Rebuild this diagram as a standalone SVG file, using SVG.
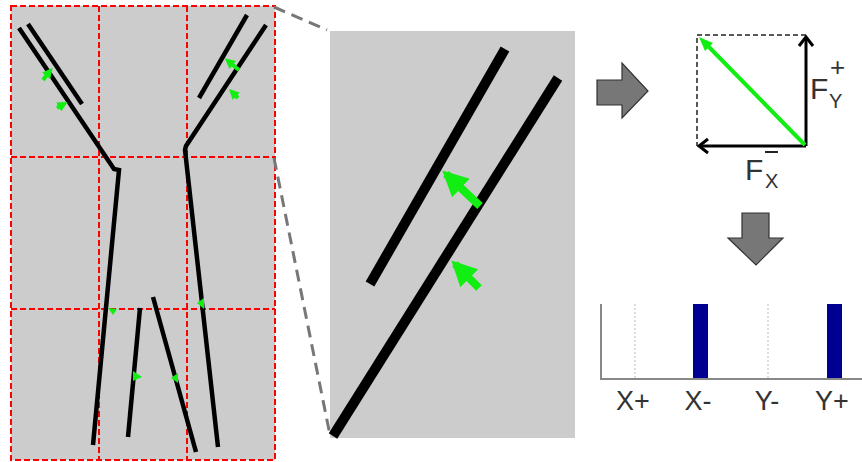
<svg xmlns="http://www.w3.org/2000/svg" width="862" height="462" viewBox="0 0 862 462">
<defs>
<style>
.grid{fill:none;stroke:#ff0000;stroke-width:2;stroke-dasharray:6 3}
.blk{fill:none;stroke:#000;stroke-width:4.5;stroke-linecap:butt;stroke-linejoin:miter}
.blkL{fill:none;stroke:#000;stroke-width:10}
.grn{fill:#11ee11}
.zoomln{fill:none;stroke:#777;stroke-width:3;stroke-dasharray:12 7}
.lbl{font-family:"Liberation Sans",Arial,sans-serif;fill:#333}
.bigarrow{fill:#777;stroke:#333;stroke-width:1.2}
</style>
<marker id="ga" viewBox="0 0 10 10" refX="6" refY="5" markerWidth="2.6" markerHeight="2.6" orient="auto" markerUnits="strokeWidth">
<path d="M0,0 L10,5 L0,10 z" fill="#11ee11"/>
</marker>
<marker id="gb" viewBox="0 0 10 10" refX="8" refY="5" markerWidth="3.2" markerHeight="3.2" orient="auto" markerUnits="strokeWidth">
<path d="M0,0 L10,5 L0,10 z" fill="#11ee11"/>
</marker>
</defs>

<g id="left-panel">
<rect x="11" y="6" width="264" height="454" fill="#cccccc"/>
<rect class="grid" x="11" y="6" width="264" height="454"/>
<line class="grid" x1="99" y1="6" x2="99" y2="460"/>
<line class="grid" x1="187" y1="6" x2="187" y2="460"/>
<line class="grid" x1="11" y1="157" x2="275" y2="157"/>
<line class="grid" x1="11" y1="309" x2="275" y2="309"/>
<polyline class="blk" points="19,28 114,169 119,170 93,445"/>
<line class="blk" x1="28" y1="24" x2="82" y2="104"/>
<line class="blk" x1="247" y1="15" x2="199" y2="98"/>
<polyline class="blk" points="266,25 186,146 185,150 218,447"/>
<line class="blk" x1="140" y1="308" x2="128" y2="437"/>
<line class="blk" x1="153" y1="297" x2="196" y2="452"/>
<line x1="43" y1="80" x2="50" y2="71" stroke="#11ee11" stroke-width="4" marker-end="url(#ga)"/>
<line x1="57" y1="108" x2="64" y2="104" stroke="#11ee11" stroke-width="4" marker-end="url(#ga)"/>
<line x1="239" y1="70" x2="228" y2="61" stroke="#11ee11" stroke-width="4" marker-end="url(#ga)"/>
<line x1="238" y1="98" x2="232" y2="92" stroke="#11ee11" stroke-width="4" marker-end="url(#ga)"/>
<polygon class="grn" points="108,308 117,309 113,315"/>
<polygon class="grn" points="197,303 204,298 204,309"/>
<polygon class="grn" points="133,371 142,377 133,381"/>
<polygon class="grn" points="171,378 178,373 178,383"/>
</g>

<g id="zoom-lines">
<line class="zoomln" x1="274" y1="7" x2="327" y2="30"/>
<line class="zoomln" x1="274" y1="158" x2="330" y2="435"/>
</g>

<g id="middle-panel">
<rect x="330" y="31" width="245" height="407" fill="#cccccc"/>
<line class="blkL" x1="505" y1="49" x2="370" y2="284"/>
<line class="blkL" x1="558" y1="78" x2="333" y2="436"/>
<line x1="480" y1="206" x2="446" y2="174" stroke="#11ee11" stroke-width="8" marker-end="url(#gb)"/>
<line x1="479" y1="288" x2="455" y2="264" stroke="#11ee11" stroke-width="8" marker-end="url(#gb)"/>
</g>

<g id="arrow-right">
<polygon class="bigarrow" points="597,80 622,80 622,63 648,91 622,118 622,105 597,105"/>
</g>

<g id="force-diagram">
<path d="M806,35 H697 V146" fill="none" stroke="#222" stroke-width="1.5" stroke-dasharray="5 3"/>
<line x1="806" y1="146" x2="806" y2="37" stroke="#000" stroke-width="3"/>
<polyline points="799,46 806,37 813,46" fill="none" stroke="#000" stroke-width="3"/>
<line x1="806" y1="146" x2="699" y2="146" stroke="#000" stroke-width="3"/>
<polyline points="708,139 699,146 708,153" fill="none" stroke="#000" stroke-width="3"/>
<line x1="805" y1="145" x2="706" y2="44" stroke="#11ee11" stroke-width="4"/>
<polygon class="grn" points="699,37 713,43 705,51"/>
<text class="lbl" x="810" y="99" font-size="30" fill="#222">F</text>
<text class="lbl" x="829" y="108" font-size="20" fill="#222">Y</text>
<text class="lbl" x="830" y="76" font-size="26" fill="#222">+</text>
<text class="lbl" x="745" y="180" font-size="30" fill="#222">F</text>
<text class="lbl" x="765" y="188" font-size="20" fill="#222">X</text>
<line x1="765" y1="152" x2="778" y2="152" stroke="#222" stroke-width="2"/>
</g>

<g id="arrow-down">
<polygon class="bigarrow" points="742,213 769,213 769,238 783,238 756,265 728,238 742,238"/>
</g>

<g id="bar-chart">
<line x1="635" y1="304" x2="635" y2="379" stroke="#bbb" stroke-width="1" stroke-dasharray="2 2"/>
<line x1="768" y1="304" x2="768" y2="379" stroke="#bbb" stroke-width="1" stroke-dasharray="2 2"/>
<rect x="693" y="304" width="15" height="75" fill="#000090"/>
<rect x="827" y="304" width="15" height="75" fill="#000090"/>
<polyline points="601,304 601,379 862,379" fill="none" stroke="#888" stroke-width="2"/>
<text class="lbl" x="633" y="410" font-size="27" text-anchor="middle">X+</text>
<text class="lbl" x="698" y="410" font-size="27" text-anchor="middle">X-</text>
<text class="lbl" x="767" y="410" font-size="27" text-anchor="middle">Y-</text>
<text class="lbl" x="832" y="410" font-size="27" text-anchor="middle">Y+</text>
</g>
</svg>
